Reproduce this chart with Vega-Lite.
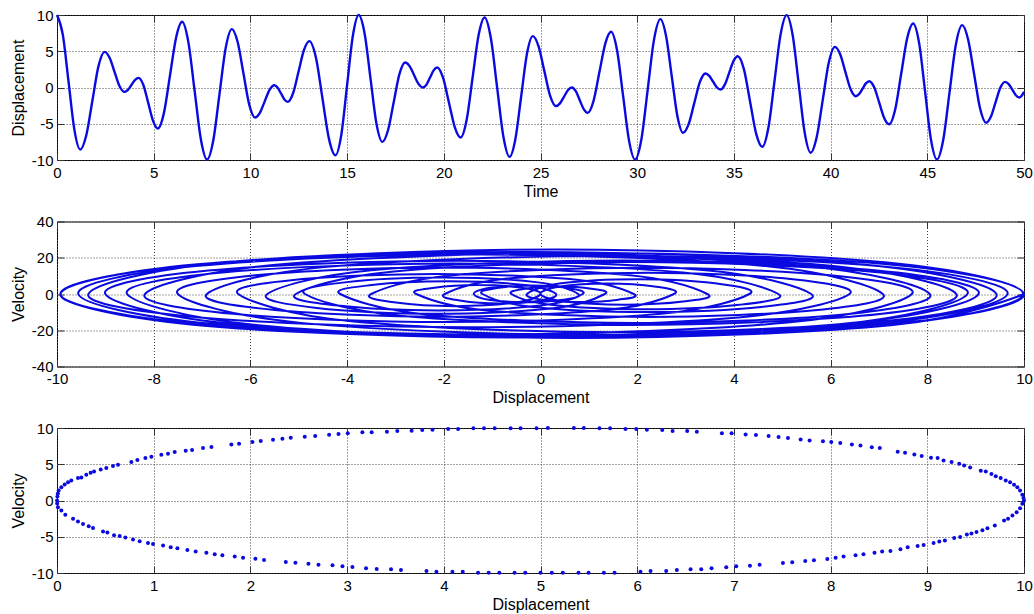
{
  "$schema": "https://vega.github.io/schema/vega-lite/v6.json",
  "padding": {"left": 9, "top": 7, "right": 4, "bottom": 0},
  "background": "white",
  "spacing": 13.5,
  "config": {
    "locale": {"number": {"decimal": ".", "thousands": ",", "grouping": [3], "currency": ["$", ""], "minus": "-"}},
    "font": "Liberation Sans",
    "view": {"stroke": "black", "strokeWidth": 1},
    "axis": {
      "labelFont": "Liberation Sans", "labelFontSize": 15, "labelColor": "black",
      "titleFont": "Liberation Sans", "titleFontSize": 16, "titleFontWeight": "normal", "titleColor": "black",
      "domain": false,
      "tickSize": -7, "tickColor": "#333333", "tickWidth": 1,
      "grid": true, "gridColor": "#444444", "gridDash": [1, 2], "gridWidth": 1, "gridOpacity": 1,
      "labelFlush": false, "labelOverlap": false
    },
    "axisX": {"labelPadding": 12, "titlePadding": 3},
    "axisY": {"labelPadding": 11, "titlePadding": 5}
  },
  "datasets": {
    "traj": [
      {"t":0,"d":10,"v":0},{"t":0.3,"d":7.29,"v":-17.17},{"t":0.6,"d":0.73,"v":-24.28},{"t":0.9,"d":-5.84,"v":-17.17},
      {"t":1.2,"d":-8.55,"v":0},{"t":1.515,"d":-6.58,"v":11.87},{"t":1.83,"d":-1.82,"v":16.79},{"t":2.145,"d":2.95,"v":11.87},
      {"t":2.46,"d":4.92,"v":0},{"t":2.72,"d":4.11,"v":-5.95},{"t":2.975,"d":2.16,"v":-8.42},{"t":3.23,"d":0.21,"v":-5.95},
      {"t":3.49,"d":-0.6,"v":0},{"t":3.67,"d":-0.32,"v":2.93},{"t":3.855,"d":0.37,"v":4.15},{"t":4.04,"d":1.05,"v":2.93},
      {"t":4.22,"d":1.33,"v":0},{"t":4.47,"d":0.31,"v":-7.75},{"t":4.72,"d":-2.16,"v":-10.96},{"t":4.97,"d":-4.63,"v":-7.75},
      {"t":5.22,"d":-5.65,"v":0},{"t":5.53,"d":-3.5,"v":13.07},{"t":5.845,"d":1.71,"v":18.49},{"t":6.16,"d":6.91,"v":13.07},
      {"t":6.47,"d":9.06,"v":0},{"t":6.79,"d":6.29,"v":-16.35},{"t":7.115,"d":-0.44,"v":-23.12},{"t":7.44,"d":-7.16,"v":-16.35},
      {"t":7.76,"d":-9.93,"v":0},{"t":8.08,"d":-7.31,"v":15.6},{"t":8.4,"d":-0.94,"v":22.06},{"t":8.72,"d":5.42,"v":15.6},
      {"t":9.04,"d":8.05,"v":0},{"t":9.34,"d":6.27,"v":-11.28},{"t":9.64,"d":1.96,"v":-15.96},{"t":9.94,"d":-2.36,"v":-11.28},
      {"t":10.24,"d":-4.14,"v":0},{"t":10.49,"d":-3.49,"v":4.95},{"t":10.74,"d":-1.91,"v":7.01},{"t":10.99,"d":-0.33,"v":4.95},
      {"t":11.24,"d":0.32,"v":0},{"t":11.41,"d":-0.02,"v":-3.7},{"t":11.585,"d":-0.83,"v":-5.24},{"t":11.76,"d":-1.64,"v":-3.7},
      {"t":11.93,"d":-1.98,"v":0},{"t":12.21,"d":-0.76,"v":8.3},{"t":12.49,"d":2.21,"v":11.74},{"t":12.77,"d":5.17,"v":8.3},
      {"t":13.05,"d":6.39,"v":0},{"t":13.39,"d":4.09,"v":-12.95},{"t":13.725,"d":-1.48,"v":-18.31},{"t":14.06,"d":-7.05,"v":-12.95},
      {"t":14.4,"d":-9.35,"v":0},{"t":14.7,"d":-6.53,"v":17.39},{"t":15.0,"d":0.33,"v":24.6},{"t":15.3,"d":7.17,"v":17.39},
      {"t":15.6,"d":10,"v":0},{"t":15.905,"d":7.45,"v":-15.93},{"t":16.21,"d":1.25,"v":-22.53},{"t":16.515,"d":-4.95,"v":-15.93},
      {"t":16.82,"d":-7.5,"v":0},{"t":17.115,"d":-5.9,"v":10.31},{"t":17.41,"d":-2.03,"v":14.58},{"t":17.705,"d":1.85,"v":10.31},
      {"t":18.0,"d":3.45,"v":0},{"t":18.23,"d":2.95,"v":-4.16},{"t":18.46,"d":1.73,"v":-5.89},{"t":18.69,"d":0.5,"v":-4.16},
      {"t":18.92,"d":0,"v":0},{"t":19.105,"d":0.4,"v":4.14},{"t":19.29,"d":1.38,"v":5.86},{"t":19.475,"d":2.36,"v":4.14},
      {"t":19.66,"d":2.76,"v":0},{"t":19.96,"d":1.35,"v":-8.87},{"t":20.265,"d":-2.07,"v":-12.54},{"t":20.57,"d":-5.49,"v":-8.87},
      {"t":20.87,"d":-6.9,"v":0},{"t":21.18,"d":-4.48,"v":14.83},{"t":21.49,"d":1.38,"v":20.98},{"t":21.8,"d":7.24,"v":14.83},
      {"t":22.11,"d":9.66,"v":0},{"t":22.43,"d":6.85,"v":-16.55},{"t":22.755,"d":0.05,"v":-23.4},{"t":23.08,"d":-6.75,"v":-16.55},
      {"t":23.4,"d":-9.56,"v":0},{"t":23.7,"d":-7.13,"v":15.4},{"t":24.0,"d":-1.24,"v":21.78},{"t":24.3,"d":4.65,"v":15.4},
      {"t":24.6,"d":7.08,"v":0},{"t":24.9,"d":5.67,"v":-8.93},{"t":25.2,"d":2.26,"v":-12.63},{"t":25.5,"d":-1.16,"v":-8.93},
      {"t":25.8,"d":-2.57,"v":0},{"t":26.005,"d":-2.19,"v":3.48},{"t":26.21,"d":-1.29,"v":4.92},{"t":26.415,"d":-0.38,"v":3.48},
      {"t":26.62,"d":0,"v":0},{"t":26.825,"d":-0.51,"v":-4.74},{"t":27.03,"d":-1.75,"v":-6.7},{"t":27.235,"d":-2.99,"v":-4.74},
      {"t":27.44,"d":-3.5,"v":0},{"t":27.74,"d":-1.87,"v":10.26},{"t":28.045,"d":2.09,"v":14.51},{"t":28.35,"d":6.05,"v":10.26},
      {"t":28.65,"d":7.68,"v":0},{"t":28.96,"d":5.11,"v":-15.77},{"t":29.27,"d":-1.13,"v":-22.31},{"t":29.58,"d":-7.36,"v":-15.77},
      {"t":29.89,"d":-9.93,"v":0},{"t":30.22,"d":-7.1,"v":16.41},{"t":30.545,"d":-0.25,"v":23.21},{"t":30.87,"d":6.6,"v":16.41},
      {"t":31.2,"d":9.43,"v":0},{"t":31.49,"d":7.14,"v":-14.88},{"t":31.785,"d":1.59,"v":-21.05},{"t":32.08,"d":-3.96,"v":-14.88},
      {"t":32.37,"d":-6.25,"v":0},{"t":32.66,"d":-5.06,"v":7.83},{"t":32.95,"d":-2.16,"v":11.08},{"t":33.24,"d":0.74,"v":7.83},
      {"t":33.53,"d":1.93,"v":0},{"t":33.725,"d":1.61,"v":-3.15},{"t":33.92,"d":0.83,"v":-4.45},{"t":34.115,"d":0.04,"v":-3.15},
      {"t":34.31,"d":-0.28,"v":0},{"t":34.53,"d":0.39,"v":5.74},{"t":34.755,"d":2.02,"v":8.12},{"t":34.98,"d":3.65,"v":5.74},
      {"t":35.2,"d":4.32,"v":0},{"t":35.52,"d":2.5,"v":-10.93},{"t":35.835,"d":-1.93,"v":-15.46},{"t":36.15,"d":-6.36,"v":-10.93},
      {"t":36.47,"d":-8.18,"v":0},{"t":36.785,"d":-5.53,"v":16.01},{"t":37.1,"d":0.9,"v":22.64},{"t":37.415,"d":7.33,"v":16.01},
      {"t":37.73,"d":9.98,"v":0},{"t":38.04,"d":7.21,"v":-17.0},{"t":38.35,"d":0.49,"v":-24.04},{"t":38.66,"d":-6.23,"v":-17.0},
      {"t":38.97,"d":-9.0,"v":0},{"t":39.28,"d":-6.87,"v":12.97},{"t":39.595,"d":-1.7,"v":18.35},{"t":39.91,"d":3.47,"v":12.97},
      {"t":40.22,"d":5.6,"v":0},{"t":40.49,"d":4.61,"v":-6.99},{"t":40.76,"d":2.2,"v":-9.89},{"t":41.03,"d":-0.21,"v":-6.99},
      {"t":41.3,"d":-1.2,"v":0},{"t":41.475,"d":-0.9,"v":3.29},{"t":41.65,"d":-0.17,"v":4.65},{"t":41.825,"d":0.57,"v":3.29},
      {"t":42.0,"d":0.87,"v":0},{"t":42.26,"d":0.0,"v":-6.39},{"t":42.515,"d":-2.1,"v":-9.04},{"t":42.77,"d":-4.19,"v":-6.39},
      {"t":43.03,"d":-5.06,"v":0},{"t":43.34,"d":-3.03,"v":12.44},{"t":43.65,"d":1.89,"v":17.6},{"t":43.96,"d":6.8,"v":12.44},
      {"t":44.27,"d":8.83,"v":0},{"t":44.58,"d":6.09,"v":-16.94},{"t":44.885,"d":-0.55,"v":-23.96},{"t":45.19,"d":-7.19,"v":-16.94},
      {"t":45.5,"d":-9.93,"v":0},{"t":45.825,"d":-7.22,"v":15.83},{"t":46.15,"d":-0.67,"v":22.39},{"t":46.475,"d":5.89,"v":15.83},
      {"t":46.8,"d":8.6,"v":0},{"t":47.11,"d":6.63,"v":-12.06},{"t":47.42,"d":1.87,"v":-17.06},{"t":47.73,"d":-2.9,"v":-12.06},
      {"t":48.04,"d":-4.87,"v":0},{"t":48.285,"d":-4.05,"v":6.41},{"t":48.53,"d":-2.05,"v":9.06},{"t":48.775,"d":-0.05,"v":6.41},
      {"t":49.02,"d":0.78,"v":0},{"t":49.21,"d":0.47,"v":-3.2},{"t":49.395,"d":-0.3,"v":-4.52},{"t":49.58,"d":-1.07,"v":-3.2},
      {"t":49.77,"d":-1.38,"v":0},{"t":49.88,"d":-1.15,"v":2.9},{"t":50.0,"d":-0.6,"v":4.3}
    ],
    "ell": [
      {"x":0,"v":0},{"x":0.004,"v":0.55},{"x":0.009,"v":0.95},{"x":0.002,"v":-0.4},
      {"x":0.017,"v":1.38},{"x":0.045,"v":1.84},{"x":0.079,"v":2.21},{"x":0.114,"v":2.53},{"x":0.148,"v":2.76},
      {"x":0.217,"v":3.09},{"x":0.252,"v":3.18},{"x":0.303,"v":3.55},{"x":0.348,"v":3.82},{"x":0.383,"v":4.01},
      {"x":0.452,"v":4.29},{"x":0.51,"v":4.47},{"x":0.579,"v":4.75},{"x":0.631,"v":4.93},{"x":0.769,"v":5.3},
      {"x":0.831,"v":5.58},{"x":0.914,"v":5.85},{"x":0.976,"v":6.04},{"x":1.079,"v":6.31},{"x":1.148,"v":6.45},
      {"x":1.217,"v":6.68},{"x":1.331,"v":6.87},{"x":1.397,"v":6.96},{"x":1.51,"v":7.24},{"x":1.597,"v":7.37},
      {"x":1.803,"v":7.74},{"x":1.883,"v":7.83},{"x":2.021,"v":8.06},{"x":2.107,"v":8.2},{"x":2.234,"v":8.39},
      {"x":2.331,"v":8.53},{"x":2.417,"v":8.66},{"x":2.562,"v":8.8},
      {"x":2.67,"v":8.89},{"x":2.814,"v":9.08},{"x":2.911,"v":9.17},{"x":3.007,"v":9.26},{"x":3.158,"v":9.4},
      {"x":3.254,"v":9.4},{"x":3.412,"v":9.49},{"x":3.519,"v":9.59},{"x":3.667,"v":9.63},{"x":3.777,"v":9.72},
      {"x":3.883,"v":9.77},{"x":4.045,"v":9.86},{"x":4.148,"v":9.86},{"x":4.306,"v":9.95},{"x":4.416,"v":9.95},
      {"x":4.526,"v":9.95},{"x":4.691,"v":9.95},{"x":4.794,"v":9.95},{"x":4.959,"v":9.95},{"x":5.076,"v":10},
      {"x":5.345,"v":10},{"x":5.448,"v":10},{"x":5.61,"v":9.95},{"x":5.72,"v":9.95},{"x":5.879,"v":9.86},
      {"x":5.99,"v":9.86},{"x":6.1,"v":9.77},{"x":6.259,"v":9.72},{"x":6.366,"v":9.59},{"x":6.517,"v":9.59},
      {"x":6.617,"v":9.49},{"x":6.876,"v":9.26},{"x":6.976,"v":9.26},{"x":7.121,"v":9.12},{"x":7.228,"v":9.03},
      {"x":7.359,"v":8.89},{"x":7.462,"v":8.76},{"x":7.559,"v":8.62},{"x":7.69,"v":8.43},{"x":7.783,"v":8.29},
      {"x":7.921,"v":8.16},{"x":8.007,"v":8.06},{"x":8.1,"v":7.93},{"x":8.22,"v":7.74},{"x":8.309,"v":7.6},
      {"x":8.426,"v":7.33},{"x":8.509,"v":7.24},{"x":8.694,"v":6.73},{"x":8.77,"v":6.59},{"x":8.866,"v":6.36},
      {"x":8.942,"v":6.13},{"x":9.038,"v":5.9},{"x":9.107,"v":5.85},{"x":9.168,"v":5.53},{"x":9.251,"v":5.3},
      {"x":9.33,"v":5.07},{"x":9.381,"v":4.84},{"x":9.443,"v":4.56},{"x":9.553,"v":4.1},{"x":9.605,"v":4.01},
      {"x":9.663,"v":3.64},{"x":9.708,"v":3.36},{"x":9.759,"v":3.09},{"x":9.811,"v":2.76},{"x":9.856,"v":2.53},
      {"x":9.897,"v":2.17},{"x":9.931,"v":1.84},{"x":9.959,"v":1.38},{"x":9.983,"v":0.78},{"x":9.995,"v":0.35},
      {"x":10,"v":0},
      {"x":9.983,"v":-0.46},{"x":9.959,"v":-1.06},{"x":9.924,"v":-1.61},{"x":9.88,"v":-2.07},{"x":9.835,"v":-2.53},
      {"x":9.794,"v":-2.76},{"x":9.698,"v":-3.46},{"x":9.622,"v":-3.82},{"x":9.57,"v":-4.1},{"x":9.509,"v":-4.33},
      {"x":9.457,"v":-4.56},{"x":9.409,"v":-4.7},{"x":9.34,"v":-5.02},{"x":9.278,"v":-5.16},{"x":9.182,"v":-5.53},
      {"x":9.124,"v":-5.67},{"x":9.065,"v":-5.85},{"x":8.962,"v":-6.13},{"x":8.9,"v":-6.27},{"x":8.797,"v":-6.45},
      {"x":8.722,"v":-6.73},{"x":8.619,"v":-6.96},{"x":8.533,"v":-7.05},{"x":8.454,"v":-7.19},{"x":8.34,"v":-7.42},
      {"x":8.258,"v":-7.56},{"x":8.134,"v":-7.74},{"x":8.052,"v":-7.88},{"x":7.966,"v":-8.06},{"x":7.828,"v":-8.25},
      {"x":7.738,"v":-8.34},{"x":7.603,"v":-8.53},{"x":7.507,"v":-8.62},{"x":7.266,"v":-8.85},{"x":7.166,"v":-8.99},
      {"x":7.024,"v":-9.08},{"x":6.921,"v":-9.22},{"x":6.769,"v":-9.35},{"x":6.662,"v":-9.49},{"x":6.552,"v":-9.49},
      {"x":6.41,"v":-9.59},{"x":6.3,"v":-9.72},{"x":6.138,"v":-9.72},{"x":6.034,"v":-9.82},{"x":5.766,"v":-9.95},
      {"x":5.655,"v":-9.95},{"x":5.497,"v":-9.95},{"x":5.393,"v":-9.95},{"x":5.231,"v":-9.95},
      {"x":5.117,"v":-9.95},{"x":5.0,"v":-9.95},{"x":4.842,"v":-9.95},{"x":4.732,"v":-9.95},{"x":4.574,"v":-9.95},
      {"x":4.464,"v":-9.95},{"x":4.354,"v":-9.95},{"x":4.196,"v":-9.82},{"x":4.089,"v":-9.82},{"x":3.924,"v":-9.82},
      {"x":3.821,"v":-9.72},{"x":3.557,"v":-9.59},{"x":3.454,"v":-9.49},{"x":3.306,"v":-9.45},{"x":3.196,"v":-9.35},
      {"x":3.055,"v":-9.17},{"x":2.952,"v":-9.08},{"x":2.849,"v":-8.94},{"x":2.704,"v":-8.85},
      {"x":2.6,"v":-8.71},{"x":2.466,"v":-8.57},{"x":2.366,"v":-8.48},{"x":2.141,"v":-8.2},{"x":2.052,"v":-8.02},
      {"x":1.924,"v":-7.88},{"x":1.838,"v":-7.74},{"x":1.71,"v":-7.56},{"x":1.631,"v":-7.42},{"x":1.545,"v":-7.19},
      {"x":1.434,"v":-7.05},{"x":1.348,"v":-6.82},{"x":1.245,"v":-6.59},{"x":1.176,"v":-6.45},{"x":1.097,"v":-6.22},
      {"x":0.993,"v":-5.99},{"x":0.941,"v":-5.85},{"x":0.855,"v":-5.62},{"x":0.786,"v":-5.39},{"x":0.707,"v":-5.12},
      {"x":0.648,"v":-4.88},{"x":0.59,"v":-4.79},{"x":0.521,"v":-4.42},{"x":0.476,"v":-4.29},{"x":0.372,"v":-3.78},
      {"x":0.328,"v":-3.55},{"x":0.269,"v":-3.23},{"x":0.217,"v":-2.9},{"x":0.166,"v":-2.53},{"x":0.086,"v":-1.98},
      {"x":0.045,"v":-1.38},{"x":0.01,"v":-0.92}
    ]
  },
  "vconcat": [
    {
      "width": 967, "height": 145,
      "data": {"name": "traj"},
      "resolve": {"axis": {"x": "independent", "y": "independent"}},
      "layer": [
        {
          "mark": {"type": "line", "interpolate": "monotone", "color": "#0a0ae0", "strokeWidth": 2.4},
          "encoding": {
            "x": {"field": "t", "type": "quantitative", "scale": {"domain": [0, 50], "nice": false},
                  "axis": {"values": [0, 5, 10, 15, 20, 25, 30, 35, 40, 45, 50], "title": "Time"}},
            "y": {"field": "d", "type": "quantitative", "scale": {"domain": [-10, 10], "nice": false},
                  "axis": {"values": [-10, -5, 0, 5, 10], "title": "Displacement"}}
          }
        },
        {
          "mark": {"type": "line", "strokeOpacity": 0},
          "encoding": {
            "x": {"field": "t", "type": "quantitative",
                  "axis": {"orient": "top", "values": [0, 5, 10, 15, 20, 25, 30, 35, 40, 45, 50], "labels": false, "grid": false, "title": null}},
            "y": {"field": "d", "type": "quantitative",
                  "axis": {"orient": "right", "values": [-10, -5, 0, 5, 10], "labels": false, "grid": false, "title": null}}
          }
        }
      ]
    },
    {
      "width": 967, "height": 145,
      "data": {"name": "traj"},
      "resolve": {"axis": {"x": "independent", "y": "independent"}},
      "layer": [
        {
          "mark": {"type": "line", "interpolate": "cardinal", "color": "#0a0ae0", "strokeWidth": 2},
          "encoding": {
            "x": {"field": "d", "type": "quantitative", "scale": {"domain": [-10, 10], "nice": false},
                  "axis": {"values": [-10, -8, -6, -4, -2, 0, 2, 4, 6, 8, 10], "title": "Displacement"}},
            "y": {"field": "v", "type": "quantitative", "scale": {"domain": [-40, 40], "nice": false},
                  "axis": {"values": [-40, -20, 0, 20, 40], "title": "Velocity"}},
            "order": {"field": "t", "type": "quantitative"}
          }
        },
        {
          "mark": {"type": "line", "strokeOpacity": 0},
          "encoding": {
            "x": {"field": "d", "type": "quantitative",
                  "axis": {"orient": "top", "values": [-10, -8, -6, -4, -2, 0, 2, 4, 6, 8, 10], "labels": false, "grid": false, "title": null}},
            "y": {"field": "v", "type": "quantitative",
                  "axis": {"orient": "right", "values": [-40, -20, 0, 20, 40], "labels": false, "grid": false, "title": null}}
          }
        }
      ]
    },
    {
      "width": 967, "height": 145,
      "data": {"name": "ell"},
      "resolve": {"axis": {"x": "independent", "y": "independent"}},
      "layer": [
        {
          "mark": {"type": "point", "shape": "circle", "filled": true, "size": 16, "color": "#0a0ae0", "opacity": 1},
          "encoding": {
            "x": {"field": "x", "type": "quantitative", "scale": {"domain": [0, 10], "nice": false},
                  "axis": {"values": [0, 1, 2, 3, 4, 5, 6, 7, 8, 9, 10], "title": "Displacement"}},
            "y": {"field": "v", "type": "quantitative", "scale": {"domain": [-10, 10], "nice": false},
                  "axis": {"values": [-10, -5, 0, 5, 10], "title": "Velocity"}}
          }
        },
        {
          "mark": {"type": "point", "opacity": 0},
          "encoding": {
            "x": {"field": "x", "type": "quantitative",
                  "axis": {"orient": "top", "values": [0, 1, 2, 3, 4, 5, 6, 7, 8, 9, 10], "labels": false, "grid": false, "title": null}},
            "y": {"field": "v", "type": "quantitative",
                  "axis": {"orient": "right", "values": [-10, -5, 0, 5, 10], "labels": false, "grid": false, "title": null}}
          }
        }
      ]
    }
  ]
}
